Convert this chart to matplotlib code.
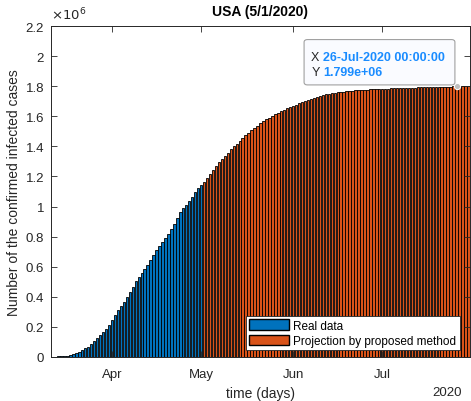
import numpy as np
import pandas as pd
import matplotlib
matplotlib.use('Agg')
import matplotlib.pyplot as plt
import matplotlib.dates as mdates
from matplotlib.patches import FancyBboxPatch, Patch

# real data 12-Mar-2020 .. 01-May-2020 (millions)
real_start = '2020-03-12'
real_values = [0.0022, 0.0029, 0.0036, 0.0047, 0.0065, 0.0094, 0.0140, 0.0196, 0.0264, 0.0356,
               0.0466, 0.0565, 0.0686, 0.0858, 0.1043, 0.1248, 0.1435, 0.1650, 0.1885, 0.2160,
               0.2450, 0.2779, 0.3119, 0.3376, 0.3687, 0.4000, 0.4330, 0.4680, 0.5032, 0.5331,
               0.5609, 0.5868, 0.6140, 0.6441, 0.6775, 0.7099, 0.7390, 0.7645, 0.7928, 0.8194,
               0.8481, 0.8862, 0.9247, 0.9609, 0.9874, 1.0108, 1.0350, 1.0641, 1.0950, 1.1250,
               1.1450]

# projection 02-May-2020 .. 30-Jul-2020 (millions)
proj_start = '2020-05-02'
proj_values = [1.165, 1.192, 1.218, 1.244, 1.269, 1.293, 1.316, 1.338, 1.359, 1.380,
               1.400, 1.419, 1.438, 1.456, 1.474, 1.491, 1.507, 1.523, 1.538, 1.552,
               1.566, 1.579, 1.591, 1.603, 1.614, 1.624, 1.634, 1.643, 1.652, 1.660,
               1.668, 1.6775, 1.6865, 1.695, 1.703, 1.7105, 1.7175, 1.724, 1.730, 1.7355,
               1.7405, 1.745, 1.749, 1.7526, 1.7558, 1.7587, 1.7613, 1.7637, 1.7659, 1.7679,
               1.7697, 1.7714, 1.773, 1.7745, 1.7759, 1.7772, 1.7784, 1.7795, 1.7805, 1.7815,
               1.7824, 1.7833, 1.7842, 1.785, 1.7858, 1.7866, 1.7874, 1.7882, 1.7889, 1.7896,
               1.7903, 1.791, 1.7917, 1.7923, 1.7929, 1.7935, 1.7941, 1.7947, 1.7952, 1.7957,
               1.7962, 1.7967, 1.7972, 1.7977, 1.7982, 1.799, 1.7993, 1.7997, 1.8001, 1.8005]

tip_date = '2020-07-26'
tip_value = 1.799e6

yticks = [0, 0.2, 0.4, 0.6, 0.8, 1, 1.2, 1.4, 1.6, 1.8, 2, 2.2]
ytick_labels = ['0', '0.2', '0.4', '0.6', '0.8', '1', '1.2', '1.4', '1.6', '1.8', '2', '2.2']

blue = '#0072BD'
orange = '#D95319'
txt = '#262626'

plt.rcParams['font.family'] = ['Liberation Sans', 'DejaVu Sans']
plt.rcParams['font.size'] = 9.5

real_dates = pd.date_range(real_start, periods=len(real_values), freq='D')
proj_dates = pd.date_range(proj_start, periods=len(proj_values), freq='D')

fig = plt.figure(figsize=(4.71, 4.02), dpi=100)
ax = fig.add_axes([51/471, 44/402, 419/471, 331/402])

ax.bar(real_dates, np.array(real_values) * 1e6, width=0.8, color=blue, edgecolor='black', linewidth=0.6)
ax.bar(proj_dates, np.array(proj_values) * 1e6, width=0.8, color=orange, edgecolor='black', linewidth=0.6)

ax.set_xlim(real_dates[0] - pd.Timedelta(hours=13), proj_dates[-1] + pd.Timedelta(hours=13))
ax.set_ylim(0, 2.2e6)
ax.set_yticks(np.array(yticks) * 1e6)
ax.set_yticklabels(ytick_labels)
ax.xaxis.set_major_locator(mdates.MonthLocator())
ax.xaxis.set_major_formatter(mdates.DateFormatter('%b'))

ax.tick_params(direction='in', top=True, right=True, colors=txt, length=4, width=0.6, pad=5)
ax.tick_params(axis='x', pad=8)
for s in ax.spines.values():
    s.set_color(txt)
    s.set_linewidth(0.7)

ax.set_title('USA (5/1/2020)', fontweight='bold', fontsize=10, color='black', pad=8)
ax.set_xlabel('time (days)', fontsize=10, color=txt, labelpad=4)
ax.set_ylabel('Number of the confirmed infected cases', fontsize=10, color=txt, labelpad=3)
ax.text(0.0, 1.012, r'$\times10^6$', transform=ax.transAxes, color=txt, fontsize=9.5, ha='left', va='bottom')
ax.text(0.945, -0.105, '2020', transform=ax.transAxes, color=txt, ha='center', va='center')

# data tip
tx = pd.Timestamp(tip_date)
ax.plot([tx], [tip_value], 'o', ms=4.5, mfc='#bfbfbf', mec='white', mew=0.8, zorder=5, clip_on=False)
box = FancyBboxPatch((0.604, 0.822), 0.36, 0.137, boxstyle='round,pad=0,rounding_size=0.008',
                     transform=ax.transAxes, fc='#fafbff', ec='#a0a0a0', lw=0.8, zorder=6)
ax.add_patch(box)
ax.text(0.621, 0.906, 'X', transform=ax.transAxes, color=txt, fontsize=9, va='center', zorder=7)
ax.text(0.650, 0.906, '26-Jul-2020 00:00:00', transform=ax.transAxes, color='#1a8cff',
        fontsize=9, fontweight='bold', va='center', zorder=7)
ax.text(0.621, 0.861, 'Y', transform=ax.transAxes, color=txt, fontsize=9, va='center', zorder=7)
ax.text(0.650, 0.861, '1.799e+06', transform=ax.transAxes, color='#1a8cff',
        fontsize=9, fontweight='bold', va='center', zorder=7)

handles = [Patch(facecolor=blue, edgecolor='black', label='Real data'),
           Patch(facecolor=orange, edgecolor='black', label='Projection by proposed method')]
leg = ax.legend(handles=handles, loc='lower right', bbox_to_anchor=(0.975, 0.02), fancybox=False,
                framealpha=1, edgecolor=txt, fontsize=8.5, handlelength=3.4, handleheight=1.0,
                handletextpad=0.3, borderpad=0.3, labelspacing=0.25, borderaxespad=0)
leg.get_frame().set_linewidth(0.6)

fig.savefig('out.png', dpi=100)
